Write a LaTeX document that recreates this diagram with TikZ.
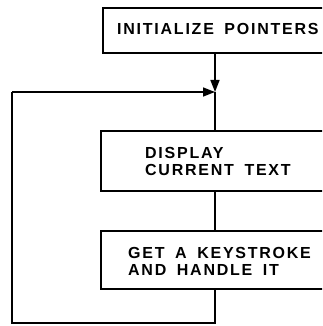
\documentclass[tikz,border=0pt]{standalone}
\usepackage{fontspec}
\setmainfont{Liberation Sans}[LetterSpace=11, WordSpace=1.7]
\usetikzlibrary{arrows.meta}
\tikzset{
  flowbox/.style={draw, line width=1.6pt, anchor=north west, minimum width=260pt, inner sep=0pt},
  flowtext/.style={anchor=base west, align=left, inner sep=0pt,
    font=\bfseries\fontsize{16}{17}\selectfont},
  flowline/.style={line width=1.6pt},
  flowarrow/.style={line width=1.6pt, -{Triangle[length=12pt,width=9pt]}}
}
\begin{document}
\begin{tikzpicture}[x=1pt,y=-1pt]
\useasboundingbox (0,0) rectangle (322,326);
\clip (0,0) rectangle (322,326);
\node[flowbox, minimum height=45pt] (b1) at (102,7) {};
\node[flowbox, minimum height=60pt] (b2) at (100,130) {};
\node[flowbox, minimum height=58pt] (b3) at (100,230) {};
\node[flowtext] (t1) at (117,35) {INITIALIZE POINTERS};
\node[flowtext] (t2) at (145,175) {DISPLAY\\CURRENT TEXT};
\node[flowtext] (t3) at (128,275) {GET A KEYSTROKE\\AND HANDLE IT};
\coordinate (j) at (215,92);
\coordinate (c1) at (215,323);
\coordinate (c2) at (12,323);
\coordinate (c3) at (12,92);
\draw[flowarrow] (j |- b1.south) -- (j);
\draw[flowline] (j) -- (j |- b2.north);
\draw[flowline] (j |- b2.south) -- (j |- b3.north);
\draw[flowline] (j |- b3.south) -- (c1) -- (c2) -- (c3);
\draw[flowarrow] (c3) -- (j);
\end{tikzpicture}
\end{document}
